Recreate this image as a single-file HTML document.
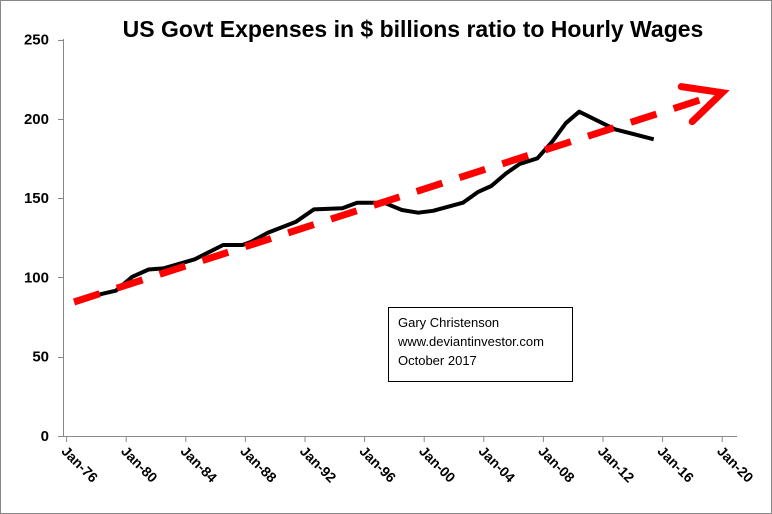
<!DOCTYPE html>
<html><head><meta charset="utf-8"><style>
body{margin:0;background:#fff}
svg{display:block;font-family:"Liberation Sans",Arial,sans-serif}
</style></head><body>
<svg id="c" width="772" height="514" viewBox="0 0 772 514">
<rect x="0.5" y="0.5" width="771" height="513" fill="#fff" stroke="#888"/>
<text x="413" y="37" text-anchor="middle" font-size="23" font-weight="bold">US Govt Expenses in $ billions ratio to Hourly Wages</text>
<g id="axes"></g>
<g id="series"></g>
<g>
<rect x="388.5" y="307.5" width="184" height="74" fill="#fff" stroke="#000"/>
<text x="398" y="327" font-size="13">Gary Christenson</text>
<text x="398" y="346" font-size="13">www.deviantinvestor.com</text>
<text x="398" y="365" font-size="13">October 2017</text>
</g>
</svg>
<script>
const yTicks=[0,50,100,150,200,250];
const xTickYears=[1976,1980,1984,1988,1992,1996,2000,2004,2008,2012,2016,2020];
const xTickLabels=["Jan-76","Jan-80","Jan-84","Jan-88","Jan-92","Jan-96","Jan-00","Jan-04","Jan-08","Jan-12","Jan-16","Jan-20"];
const years=[1976.6,1979.3,1980.4,1981.5,1982.5,1984.6,1986.5,1987.8,1988.4,1989.5,1991.4,1992.6,1994.5,1995.5,1997.3,1998.5,1999.6,2000.6,2002.6,2003.6,2004.5,2005.5,2006.4,2007.6,2008.6,2009.5,2010.4,2012.8,2015.4];
const values=[85.8,91.6,100.4,105,105.7,111.4,120.4,120.4,122.5,128.2,135.1,142.9,143.6,147.1,147.1,142.5,140.8,142,147.1,153.8,157.6,165.6,171.5,175.1,185.6,197.2,204.5,193.4,187.1];
const trendYears=[1976.5,2020];
const trendValues=[84.5,216.5];

const NS="http://www.w3.org/2000/svg";
const x=yr=>66.6+(yr-1976)*14.9;
const y=v=>436-v*1.586;
function mk(tag,attrs,parent){const e=document.createElementNS(NS,tag);for(const k in attrs)e.setAttribute(k,attrs[k]);parent.appendChild(e);return e;}
const ax=document.getElementById('axes'), se=document.getElementById('series');
let e=mk('line',{x1:63.5,y1:39,x2:63.5,y2:436,stroke:'#888'},ax);


e=mk('line',{x1:63,y1:436.5,x2:737,y2:436.5,stroke:'#888'},ax);


yTicks.forEach(t=>{
  mk('line',{x1:58,x2:63,y1:Math.round(y(t))+0.5,y2:Math.round(y(t))+0.5,stroke:'#888'},ax);
  const tx=mk('text',{x:49,y:y(t)+5,'text-anchor':'end','font-size':15,'font-weight':'bold'},ax);
  tx.textContent=t;
  
  
});
xTickYears.forEach((yr,i)=>{
  const px=x(yr);
  mk('line',{x1:px,x2:px,y1:436,y2:442,stroke:'#888'},ax);
  const tx=mk('text',{x:0,y:0,'font-size':14,'font-weight':'bold',transform:`translate(${px-6},${452}) rotate(45)`},ax);
  tx.textContent=xTickLabels[i];
  
  
});
const pts=years.map((yr,i)=>x(yr).toFixed(1)+','+y(values[i]).toFixed(1)).join(' ');
e=mk('polyline',{points:pts,fill:'none',stroke:'#000','stroke-width':4,'stroke-linejoin':'round'},se);


const x1=x(trendYears[0]),y1=y(trendValues[0]),x2=x(trendYears[1]),y2=y(trendValues[1]);
e=mk('line',{x1:x1,y1:y1,x2:x2-4,y2:y2+1.5,stroke:'#f00','stroke-width':7,'stroke-dasharray':'27 18'},se);


e=mk('polyline',{points:`${x2-41},${y2-6} ${x2},${y2} ${x2-30},${y2+29}`,fill:'none',stroke:'#f00','stroke-width':7,'stroke-linecap':'round'},se);


</script>
</body></html>
